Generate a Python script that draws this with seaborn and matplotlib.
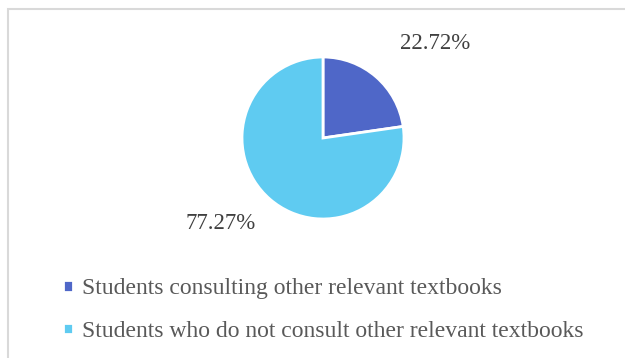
import matplotlib
matplotlib.use("Agg")
import matplotlib.pyplot as plt
from matplotlib.patches import Rectangle
import seaborn as sns

categories = [
    "Students consulting other relevant textbooks",
    "Students who do not consult other relevant textbooks",
]
shares = [22.72, 77.27]
slice_colors = ["#4F67C8", "#5FCBF1"]

sns.set_theme(style="white")
plt.rcParams["font.family"] = ["Liberation Serif", "DejaVu Serif"]

W, H = 625, 358
fig = plt.figure(figsize=(W / 100, H / 100), dpi=100)
fig.patch.set_facecolor("white")

# chart frame (runs off the right and bottom edges)
fig.patches.append(Rectangle((8 / W, -0.5), 1.5, 1 - 9 / H + 0.5,
                             transform=fig.transFigure, fill=False,
                             edgecolor="#D9D9D9", linewidth=1.5))

# pie axes: centre (323, 138) px, radius 81 px
cx, cy, r, k = 323, 138, 81, 1.25
side = 2 * r * k
ax = fig.add_axes([(cx - side / 2) / W, 1 - (cy + side / 2) / H, side / W, side / H])
wedges, _ = ax.pie(shares, colors=slice_colors, startangle=90, counterclock=False,
                   wedgeprops=dict(edgecolor="white", linewidth=2))
ax.set_xlim(-k, k)
ax.set_ylim(-k, k)
ax.set_aspect("equal")
ax.axis("off")

label_pos = [(1.39, 1.17), (-1.26, -1.05)]
for v, (lx, ly) in zip(shares, label_pos):
    ax.text(lx, ly, f"{v:.2f}%", ha="center", va="center", fontsize=16.5,
            color="#404040", clip_on=False)

leg = fig.legend(wedges, categories, loc="upper left",
                 bbox_to_anchor=(42 / W, 1 - 257 / H), frameon=False,
                 fontsize=17, handlelength=0.4, handleheight=0.4,
                 handletextpad=0.4, labelspacing=0.92)
for t in leg.get_texts():
    t.set_color("#595959")

fig.savefig("out.png", dpi=100, facecolor="white")
